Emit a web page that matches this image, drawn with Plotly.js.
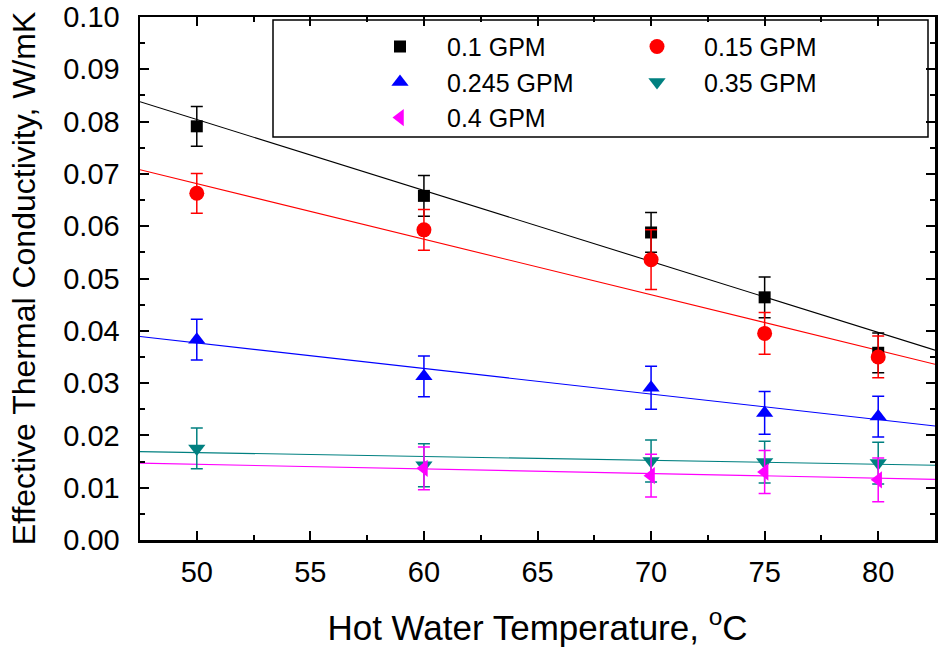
<!DOCTYPE html>
<html>
<head>
<meta charset="utf-8">
<script src="https://cdn.plot.ly/plotly-3.0.1.min.js"></script>
<style>html,body{margin:0;padding:0;background:#fff;}#chart{width:943px;height:648px;}</style>
</head>
<body>
<div id="chart"></div>
<script>
// ---- data ----
var seriesNames = ["0.1 GPM", "0.15 GPM", "0.245 GPM", "0.35 GPM", "0.4 GPM"];
var seriesColors = ["#000000", "#FF0000", "#0000FF", "#008080", "#FF00FF"];

var xTemp = [50, 60, 70, 75, 80];
var xTempMagenta = [60, 70, 75, 80];

var k01 = [0.0791, 0.0658, 0.0588, 0.0464, 0.0358];
var e01 = [0.0038, 0.0039, 0.0038, 0.0039, 0.0038];
var k015 = [0.0663, 0.0593, 0.0536, 0.0395, 0.0350];
var e015 = [0.0038, 0.0039, 0.0057, 0.0040, 0.0040];
var k0245 = [0.0383, 0.0313, 0.0291, 0.0243, 0.0236];
var e0245 = [0.0039, 0.0039, 0.0041, 0.0041, 0.0039];
var k035 = [0.0175, 0.0143, 0.0151, 0.0149, 0.0147];
var e035 = [0.0039, 0.0041, 0.0040, 0.0040, 0.0040];
var k04 = [0.0137, 0.0123, 0.0130, 0.0115];
var e04 = [0.0041, 0.0041, 0.0041, 0.0042];

// linear fit lines (end points read at the plot edges)
var fitX = [47.5, 82.5];
var fit01 = [0.0838, 0.0363];
var fit015 = [0.0708, 0.0336];
var fit0245 = [0.0389, 0.0218];
var fit035 = [0.0169, 0.0143];
var fit04 = [0.0147, 0.0116];

var xTickVals = [50, 55, 60, 65, 70, 75, 80];
var yTickVals = [0, 0.01, 0.02, 0.03, 0.04, 0.05, 0.06, 0.07, 0.08, 0.09, 0.10];

var FONT = "Liberation Sans, Arial, Helvetica, sans-serif";

function pts(x, y, e, i, symbol, size, legendId) {
  return {
    type: "scatter", mode: "markers", x: x, y: y, name: seriesNames[i],
    legend: legendId,
    marker: {symbol: symbol, size: size, color: seriesColors[i], line: {width: 0}},
    error_y: {type: "data", array: e, visible: true, color: seriesColors[i], thickness: 1.5, width: 6},
    cliponaxis: false
  };
}
function fit(y, i) {
  return {
    type: "scatter", mode: "lines", x: fitX, y: y, showlegend: false, hoverinfo: "skip",
    line: {color: seriesColors[i], width: 1.1}
  };
}

var data = [
  fit(fit01, 0), fit(fit015, 1), fit(fit0245, 2), fit(fit035, 3), fit(fit04, 4),
  pts(xTemp, k01, e01, 0, "square", 12, "legend"),
  pts(xTemp, k015, e015, 1, "circle", 15, "legend2"),
  pts(xTemp, k0245, e0245, 2, "triangle-up", 15, "legend"),
  pts(xTemp, k035, e035, 3, "triangle-down", 15, "legend2"),
  pts(xTempMagenta, k04, e04, 4, "triangle-left", 15, "legend")
];

var axisCommon = {
  showline: true, linecolor: "#000", linewidth: 2.5, mirror: "allticks",
  ticks: "inside", ticklen: 9, tickwidth: 2, tickcolor: "#000",
  showgrid: false, zeroline: false,
  tickfont: {family: FONT, size: 29, color: "#000"}
};

var legendCommon = {
  orientation: "v", xanchor: "left", yanchor: "top",
  bgcolor: "rgba(0,0,0,0)", borderwidth: 0,
  font: {family: FONT, size: 25, color: "#000"},
  itemwidth: 84, itemclick: false
};

var layout = {
  width: 943, height: 648,
  margin: {l: 140, r: 8, t: 17, b: 108, pad: 0},
  paper_bgcolor: "#fff", plot_bgcolor: "#fff",
  font: {family: FONT, color: "#000"},
  showlegend: true,
  xaxis: Object.assign({}, axisCommon, {
    range: [47.5, 82.5], tickmode: "array", tickvals: xTickVals,
    ticklabelstandoff: 5,
    minor: {ticks: "inside", ticklen: 5, tickwidth: 2, tickcolor: "#000", dtick: 2.5, tick0: 47.5, showgrid: false},
    title: {text: "Hot Water Temperature, <sup>o</sup>C", font: {family: FONT, size: 35, color: "#000"}, standoff: 28}
  }),
  yaxis: Object.assign({}, axisCommon, {
    range: [0, 0.10], tickmode: "array", tickvals: yTickVals, tickformat: ".2f",
    ticklabelstandoff: 12,
    minor: {ticks: "inside", ticklen: 5, tickwidth: 2, tickcolor: "#000", dtick: 0.005, tick0: 0, showgrid: false},
    title: {text: "Effective Thermal Conductivity, W/mK", font: {family: FONT, size: 32, color: "#000"}, standoff: 18}
  }),
  legend: Object.assign({}, legendCommon, {x: (353 - 140) / 795, y: 0.987}),
  legend2: Object.assign({}, legendCommon, {x: (610 - 140) / 795, y: 0.987}),
  shapes: [{
    type: "rect", xref: "paper", yref: "paper",
    x0: (273 - 140) / 795, x1: (928 - 140) / 795,
    y0: 1 - (137 - 17) / 523, y1: 1 - (20 - 17) / 523,
    line: {color: "#000", width: 1.5}, fillcolor: "rgba(0,0,0,0)", layer: "above"
  }]
};

Plotly.newPlot("chart", data, layout, {displayModeBar: false, staticPlot: true});
</script>
</body>
</html>
